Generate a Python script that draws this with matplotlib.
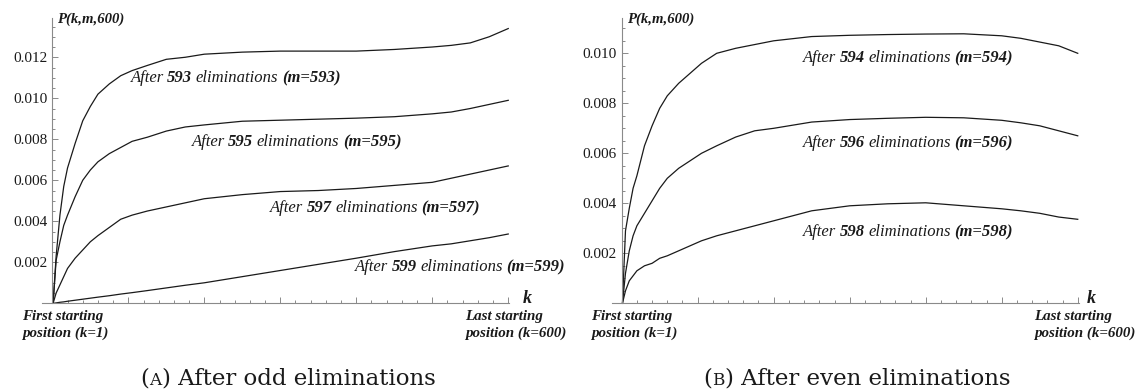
import matplotlib
matplotlib.use("Agg")
import matplotlib.pyplot as plt
from matplotlib.transforms import IdentityTransform
from matplotlib.ticker import MultipleLocator, FixedLocator

# values (k = starting position, P = probability)
k_pos = [1, 5, 10, 15, 20, 30, 40, 50, 60, 75, 90, 105, 125, 150, 175, 200,
         250, 300, 350, 400, 450, 500, 525, 550, 575, 600]

p593 = [0, 0.0023, 0.0043, 0.0057, 0.0066, 0.0078, 0.0089, 0.0096, 0.0102, 0.0107,
        0.0111, 0.01135, 0.0116, 0.0119, 0.0120, 0.01215, 0.01225, 0.0123, 0.0123,
        0.0123, 0.01238, 0.0125, 0.01258, 0.0127, 0.0130, 0.0134]
p595 = [0, 0.0021, 0.0030, 0.0038, 0.0043, 0.0052, 0.0060, 0.0065, 0.0069, 0.0073,
        0.0076, 0.0079, 0.0081, 0.0084, 0.0086, 0.0087, 0.00888, 0.00893, 0.00898,
        0.00903, 0.0091, 0.00924, 0.00933, 0.0095, 0.0097, 0.0099]
p597 = [0, 0.0005, 0.0009, 0.0013, 0.0017, 0.0022, 0.0026, 0.0030, 0.0033, 0.0037,
        0.0041, 0.0043, 0.0045, 0.0047, 0.0049, 0.0051, 0.0053, 0.00545, 0.0055,
        0.0056, 0.00575, 0.0059, 0.0061, 0.0063, 0.0065, 0.0067]
p599 = [0, 0.00002, 0.00005, 0.00007, 0.0001, 0.00015, 0.0002, 0.00025, 0.0003,
        0.00037, 0.00045, 0.00052, 0.00062, 0.00075, 0.00088, 0.001, 0.0013, 0.0016,
        0.0019, 0.0022, 0.00252, 0.0028, 0.0029, 0.00305, 0.0032, 0.00338]

p594 = [0, 0.0029, 0.0038, 0.0046, 0.0051, 0.0063, 0.0071, 0.0078, 0.0083, 0.0088,
        0.0092, 0.0096, 0.0100, 0.0102, 0.01035, 0.0105, 0.01067, 0.01072, 0.01075,
        0.01077, 0.01078, 0.0107, 0.0106, 0.01045, 0.0103, 0.0100]
p596 = [0, 0.0012, 0.0021, 0.0027, 0.0031, 0.0036, 0.0041, 0.0046, 0.0050, 0.0054,
        0.0057, 0.0060, 0.0063, 0.00665, 0.0069, 0.0070, 0.00725, 0.00735, 0.0074,
        0.00744, 0.00742, 0.00732, 0.00722, 0.0071, 0.0069, 0.0067]
p598 = [0, 0.0005, 0.0009, 0.0011, 0.0013, 0.0015, 0.0016, 0.0018, 0.0019, 0.0021,
        0.0023, 0.0025, 0.0027, 0.0029, 0.0031, 0.0033, 0.0037, 0.0039, 0.00398,
        0.00402, 0.0039, 0.00378, 0.0037, 0.0036, 0.00345, 0.00336]

odd_m = [593, 595, 597, 599]
even_m = [594, 596, 598]
left_ticks = [0.002, 0.004, 0.006, 0.008, 0.010, 0.012]
right_ticks = [0.002, 0.004, 0.006, 0.008, 0.010]
caption_a = ("A", "After odd eliminations")
caption_b = ("B", "After even eliminations")

W, H = 1138, 390
SERIF = "Liberation Serif"
CAPTION_FONT = "DejaVu Serif"
INK = "#1a1a1a"
AXIS_GREY = "#8a8a8a"

fig = plt.figure(figsize=(W / 100, H / 100), dpi=100)
fig.patch.set_facecolor("white")


def make_axes(rect, ymax, ticks):
    ax = fig.add_axes(rect)
    ax.set_xlim(-14, 601)
    ax.set_ylim(0, ymax)
    for s in ["top", "right"]:
        ax.spines[s].set_visible(False)
    ax.spines["left"].set_position(("data", 0))
    ax.spines["bottom"].set_position(("data", 0))
    for s in ["left", "bottom"]:
        ax.spines[s].set_color(AXIS_GREY)
        ax.spines[s].set_linewidth(0.8)
    ax.xaxis.set_major_locator(FixedLocator([100, 200, 300, 400, 500, 600]))
    ax.xaxis.set_minor_locator(MultipleLocator(20))
    ax.set_xticklabels([])
    ax.yaxis.set_major_locator(FixedLocator(ticks))
    ax.yaxis.set_minor_locator(MultipleLocator(0.0005))
    ax.set_yticklabels([f"{t:.3f}" for t in ticks], family=SERIF, fontsize=11, color=INK)
    ax.tick_params(which="both", direction="in", color=AXIS_GREY, width=0.7)
    ax.tick_params(which="major", length=4.5)
    ax.tick_params(which="minor", length=2.5)
    ax.tick_params(axis="y", pad=3.5)
    ax.patch.set_alpha(0)
    return ax


ax1 = make_axes([41.7 / W, (H - 303.3) / H, 467.3 / W, 285 / H], 0.01390, left_ticks)
ax2 = make_axes([611.8 / W, (H - 303.3) / H, 466.7 / W, 285 / H], 0.01140, right_ticks)
ax2.set_xlim(-13, 601)

for vals in [p593, p595, p597, p599]:
    ax1.plot(k_pos, vals, color=INK, lw=0.9)
for vals in [p594, p596, p598]:
    ax2.plot(k_pos, vals, color=INK, lw=0.9)

fig.canvas.draw()
rend = fig.canvas.get_renderer()


def space_width(**kw):
    a = fig.text(0, 0, "x x", **kw)
    b = fig.text(0, 0, "xx", **kw)
    w = a.get_window_extent(rend).width - b.get_window_extent(rend).width
    a.remove()
    b.remove()
    return w


def rich_text(x, y, parts, ha="left", family=SERIF, gap_scale=0.85):
    # parts: (string, size, style, weight); x, y in pixels from top-left, y = baseline
    items = []
    for s, fs, st, wt in parts:
        kw = dict(family=family, fontsize=fs, style=st, weight=wt)
        lead = len(s) - len(s.lstrip(" "))
        t = fig.text(0, 0, s.strip(" "), transform=IdentityTransform(),
                     va="baseline", ha="left", color=INK, **kw)
        gap = lead * space_width(**kw) * gap_scale if lead else 0
        items.append((t, gap, t.get_window_extent(rend).width))
    total = sum(g + w for _, g, w in items)
    x0 = x - total / 2 if ha == "center" else x
    for t, g, w in items:
        x0 += g
        t.set_position((x0, H - y))
        x0 += w


def elim_label(x, y, m):
    fs = 12
    rich_text(x, y, [("After", fs, "italic", "normal"),
                     (f" {m}", fs, "italic", "bold"),
                     (" eliminations", fs, "italic", "normal"),
                     (f" (m={m})", fs, "italic", "bold")])


# annotations: left x, baseline y (pixels)
odd_pos = [(130.5, 82), (191.5, 146), (270, 212), (355, 271)]
even_pos = [(803, 62), (803, 147), (803, 236)]
for (x, y), m in zip(odd_pos, odd_m):
    elim_label(x, y, m)
for (x, y), m in zip(even_pos, even_m):
    elim_label(x, y, m)

BI = ("italic", "bold")
for x_axis in [52.3, 621.7]:
    rich_text(x_axis + 5, 23, [("P(k,m,600)", 10.6, *BI)])
    rich_text(x_axis - 30.5, 320, [("First starting", 10.8, *BI)])
    rich_text(x_axis - 30.5, 337, [("position (k=1)", 10.8, *BI)])
for x_last, x_k in [(465, 523), (1034, 1087)]:
    rich_text(x_last, 320, [("Last starting", 10.8, *BI)])
    rich_text(x_last, 337, [("position (k=600)", 10.8, *BI)])
    rich_text(x_k, 303, [("k", 13, *BI)])

for cx, (letter, text) in [(288, caption_a), (857, caption_b)]:
    rich_text(cx, 385, [("(", 16.5, "normal", "normal"),
                        (letter, 12.2, "normal", "normal"),
                        (") " + text, 16.5, "normal", "normal")],
              ha="center", family=CAPTION_FONT, gap_scale=1.0)

fig.savefig("out.png", dpi=100)
